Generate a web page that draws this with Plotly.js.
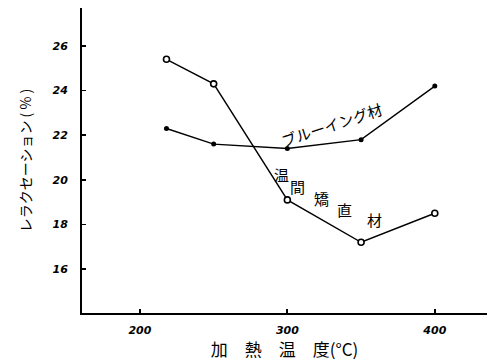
<!DOCTYPE html>
<html>
<head>
<meta charset="utf-8">
<script src="https://cdn.plot.ly/plotly-3.0.1.min.js"></script>
<style>html,body{margin:0;padding:0;background:#fff;}#chart{width:489px;height:361px;}</style>
</head>
<body>
<div id="chart"></div>
<script>
// data
const temperature = [218, 250, 300, 350, 400];
const warmStraightened = [25.4, 24.3, 19.1, 17.2, 18.5];   // 温間矯直材
const blued = [22.3, 21.6, 21.4, 21.8, 24.2];              // ブルーイング材
const xTicks = [200, 300, 400];
const yTicks = [16, 18, 20, 22, 24, 26];
const seriesNames = ['温間矯直材', 'ブルーイング材'];

const jp = '"Noto Sans CJK JP", sans-serif';
const tickFont = {family: '"DejaVu Sans", sans-serif', size: 11, color: '#000', weight: 'bold', style: 'italic'};

const traces = [
  {x: temperature, y: warmStraightened, name: seriesNames[0], type: 'scatter', mode: 'lines+markers',
   line: {color: '#000', width: 1.4},
   marker: {symbol: 'circle', size: 6, color: '#fff', line: {color: '#000', width: 1.6}}},
  {x: temperature, y: blued, name: seriesNames[1], type: 'scatter', mode: 'lines+markers',
   line: {color: '#000', width: 1.4},
   marker: {symbol: 'circle', size: 5, color: '#000'}}
];

const annotations = [
  {x: 330, y: 22.5, text: seriesNames[1], textangle: -18, font: {family: jp, size: 15, color: '#000'}}
];
const warmChars = Array.from(seriesNames[0]);
const charPos = [[296, 20.22], [307, 19.68], [323.4, 19.18], [339, 18.65], [359.3, 18.2]];
warmChars.forEach((c, i) => annotations.push({x: charPos[i][0], y: charPos[i][1], text: c, font: {family: jp, size: 15, color: '#000'}}));
annotations.forEach(a => { a.xref = 'x'; a.yref = 'y'; a.showarrow = false; });

const layout = {
  width: 489, height: 361,
  margin: {l: 82, r: 2, t: 8, b: 48},
  paper_bgcolor: '#fff', plot_bgcolor: '#fff',
  showlegend: false,
  xaxis: {
    range: [160.7, 435.4], tickvals: xTicks, ticktext: xTicks.map(String),
    showgrid: false, zeroline: false, showline: true, linecolor: '#000', linewidth: 2,
    ticks: 'inside', ticklen: 4, tickwidth: 2, tickcolor: '#000',
    tickfont: tickFont, ticklabelstandoff: 6,
    title: {text: '加　熱　温　度(°C)', font: {family: jp, size: 17, color: '#000'}, standoff: 5}
  },
  yaxis: {
    range: [14.03, 27.7], tickvals: yTicks, ticktext: yTicks.map(String),
    showgrid: false, zeroline: false, showline: true, linecolor: '#000', linewidth: 2,
    ticks: 'inside', ticklen: 4, tickwidth: 1.5, tickcolor: '#000',
    tickfont: tickFont, ticklabelstandoff: 10,
    title: {text: 'レラクセーション ( % )', font: {family: jp, size: 14, color: '#000'}, standoff: 18}
  },
  annotations: annotations
};

Plotly.newPlot('chart', traces, layout, {staticPlot: true, displayModeBar: false});
</script>
</body>
</html>
